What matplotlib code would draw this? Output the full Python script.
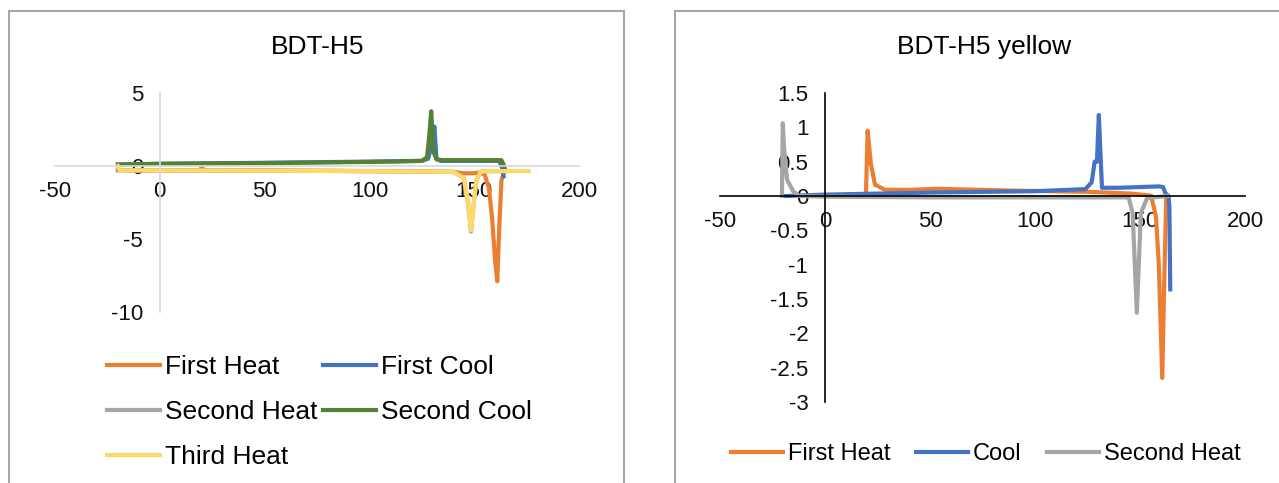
import matplotlib.pyplot as plt
from matplotlib.patches import Rectangle

plt.rcParams['font.family'] = ['Liberation Sans', 'DejaVu Sans']
plt.rcParams['axes.unicode_minus'] = False

# DSC traces, BDT-H5 (temperature in C, heat flow)
h5_first_heat_x = [-20, -15, 0, 19, 20, 21, 23, 50, 100, 140, 145, 149, 153, 155, 157, 158.5, 160, 161, 162, 163, 164]
h5_first_heat_y = [-0.25, -0.3, -0.3, -0.3, -0.1, -0.25, -0.3, -0.3, -0.35, -0.4, -0.5, -0.5, -0.45, -0.6, -1.5, -3.5, -6.5, -7.9, -4.0, -1.0, -0.5]

h5_first_cool_x = [-20, 0, 50, 100, 125, 128, 130, 131, 132, 134, 150, 162, 163.5, 164]
h5_first_cool_y = [0.1, 0.15, 0.22, 0.3, 0.35, 0.5, 1.5, 2.7, 0.5, 0.35, 0.35, 0.35, -0.2, -0.7]

h5_second_heat_x = [-20, 0, 50, 100, 140, 145, 147, 148.5, 149.5, 151, 153, 156, 165]
h5_second_heat_y = [-0.3, -0.3, -0.32, -0.35, -0.4, -0.8, -2.5, -4.5, -3.0, -1.0, -0.4, -0.35, -0.35]

h5_second_cool_x = [-20, 0, 50, 100, 125, 127.5, 128.5, 129.5, 130.5, 132, 135, 150, 163, 164, 164.5]
h5_second_cool_y = [0.1, 0.15, 0.2, 0.28, 0.35, 0.6, 2.0, 3.75, 1.0, 0.45, 0.4, 0.4, 0.4, 0.1, -0.1]

h5_third_heat_x = [-20, -19, 0, 50, 100, 140, 145, 147, 148.5, 149.5, 151, 153, 156, 176]
h5_third_heat_y = [0.0, -0.3, -0.3, -0.32, -0.35, -0.4, -0.8, -2.5, -4.4, -3.0, -1.0, -0.4, -0.35, -0.35]

# DSC traces, BDT-H5 yellow
y_first_heat_x = [19.5, 20.3, 21.8, 23.8, 28.6, 40, 54, 87, 126, 145.6, 155.3, 157.6, 159, 160.6, 161.7, 162.5]
y_first_heat_y = [0.02, 0.95, 0.48, 0.165, 0.09, 0.09, 0.105, 0.08, 0.06, 0.035, 0.005, -0.3, -1.02, -2.65, -1.02, -0.05]

y_cool_x = [-18.5, 0, 50, 100, 124, 127, 128.4, 129.5, 130.4, 131.2, 131.9, 140, 159.2, 161, 162.1, 163.6, 164.0, 164.4]
y_cool_y = [0.0, 0.02, 0.05, 0.07, 0.1, 0.2, 0.5, 0.5, 1.18, 0.6, 0.12, 0.12, 0.14, 0.13, 0.04, 0.0, -0.15, -1.36]

y_second_heat_x = [-20.5, -20.1, -19.5, -18.1, -15.2, -12.3, 0, 50, 100, 144.6, 146.5, 148.5, 150.4, 153.4, 163.1]
y_second_heat_y = [0.0, 1.06, 0.7, 0.24, 0.07, 0.0, -0.01, -0.02, -0.02, -0.02, -0.25, -1.7, -0.25, -0.03, 0.0]

x_ticks = [-50, 0, 50, 100, 150, 200]
h5_y_ticks = [-10, -5, 0, 5]
yellow_y_ticks = [-3, -2.5, -2, -1.5, -1, -0.5, 0, 0.5, 1, 1.5]

ORANGE = '#ED7D31'
BLUE = '#4472C4'
GRAY = '#A5A5A5'
GREEN = '#548235'
GOLD = '#FFD966'

W, H = 1279, 483
fig = plt.figure(figsize=(W / 100, H / 100), dpi=100)


def px_box(x0, y_top, x1, y_bot):
    return [x0 / W, 1 - y_bot / H, (x1 - x0) / W, (y_bot - y_top) / H]


def style_axes(ax, axis_color):
    for side in ('top', 'right'):
        ax.spines[side].set_visible(False)
    for side in ('left', 'bottom'):
        ax.spines[side].set_position(('data', 0))
        ax.spines[side].set_color(axis_color)
        ax.spines[side].set_linewidth(1.2)
    ax.tick_params(axis='both', length=0, labelsize=16, labelcolor='#111111')
    ax.tick_params(axis='x', pad=11)
    ax.tick_params(axis='y', pad=12)
    ax.patch.set_alpha(0)


lw = 3.0

# left chart
ax1 = fig.add_axes(px_box(55, 93, 579, 312))
l_fh, = ax1.plot(h5_first_heat_x, h5_first_heat_y, color=ORANGE, lw=lw, label='First Heat')
l_fc, = ax1.plot(h5_first_cool_x, h5_first_cool_y, color=BLUE, lw=lw, label='First Cool')
l_sh, = ax1.plot(h5_second_heat_x, h5_second_heat_y, color=GRAY, lw=lw, label='Second Heat')
l_sc, = ax1.plot(h5_second_cool_x, h5_second_cool_y, color=GREEN, lw=lw, label='Second Cool')
l_th, = ax1.plot(h5_third_heat_x, h5_third_heat_y, color=GOLD, lw=lw, label='Third Heat')
ax1.set_xlim(-50, 200)
ax1.set_ylim(-10, 5)
ax1.set_xticks(x_ticks)
ax1.set_yticks(h5_y_ticks)
style_axes(ax1, '#D9D9D9')
# legend is filled column by column, so order entries to read across rows
ax1.legend(handles=[l_fh, l_sh, l_th, l_fc, l_sc],
           loc='upper left', bbox_to_anchor=(107 / W, 1 - 355 / H), bbox_transform=fig.transFigure,
           ncol=2, frameon=False, fontsize=19, handlelength=2.0, handletextpad=0.2,
           columnspacing=0.2, labelspacing=0.8, borderpad=0, borderaxespad=0)

# right chart
ax2 = fig.add_axes(px_box(720, 93, 1245, 402))
ax2.plot(y_first_heat_x, y_first_heat_y, color=ORANGE, lw=lw, label='First Heat')
ax2.plot(y_cool_x, y_cool_y, color=BLUE, lw=lw, label='Cool')
ax2.plot(y_second_heat_x, y_second_heat_y, color=GRAY, lw=lw, label='Second Heat')
ax2.set_xlim(-50, 200)
ax2.set_ylim(-3, 1.5)
ax2.set_xticks(x_ticks)
ax2.set_yticks(yellow_y_ticks)
ax2.set_yticklabels([f'{v:g}' for v in yellow_y_ticks])
style_axes(ax2, 'black')
ax2.legend(loc='upper left', bbox_to_anchor=(731 / W, 1 - 443 / H), bbox_transform=fig.transFigure,
           ncol=3, frameon=False, fontsize=17, handlelength=2.2, handletextpad=0.2,
           columnspacing=1.1, borderpad=0, borderaxespad=0)

# chart titles and outer frames
fig.text(318 / W, 1 - 47 / H, 'BDT-H5', ha='center', va='center', fontsize=19)
fig.text(984 / W, 1 - 47 / H, 'BDT-H5 yellow', ha='center', va='center', fontsize=19)
for x0, x1 in ((9, 624), (675, 1300)):
    fig.add_artist(Rectangle((x0 / W, -0.1), (x1 - x0) / W, 1.1 - 10.5 / H,
                             transform=fig.transFigure, fill=False, ec='#A6A6A6', lw=1.5))

fig.savefig('out.png', dpi=100)
